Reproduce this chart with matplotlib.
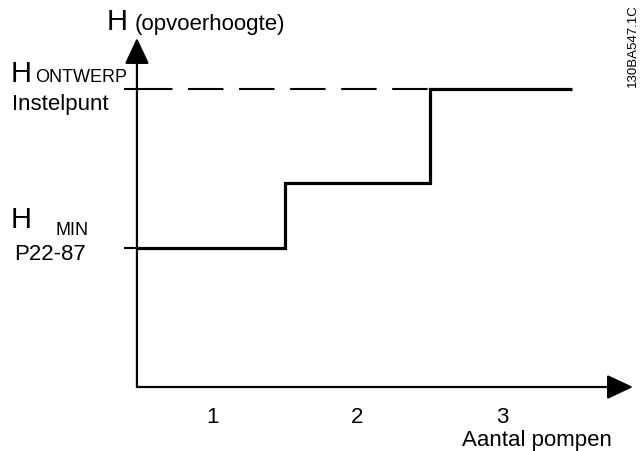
import matplotlib
matplotlib.use("Agg")
import matplotlib.pyplot as plt

plt.rcParams['font.family'] = ['Liberation Sans', 'DejaVu Sans']

# pumps and head levels
pumps = [1, 2, 3]
step_x = [0.479, 1.5, 1.5, 2.5, 2.5, 3.48]
step_h = [1.39, 1.39, 2.04, 2.04, 2.98, 2.98]
h_min = 1.39
h_design = 2.98
x_origin = 0.479
x_end = 3.9
y_end = 3.49

fig = plt.figure(figsize=(6.43, 4.52), dpi=100)
ax = fig.add_axes([0, 0, 1, 1])
ax.set_xlim(-0.4655, 3.969)
ax.set_ylim(-0.64, 3.88)
ax.axis("off")

# axes with arrows
arr = dict(arrowstyle="-|>,head_length=1.6,head_width=0.75", color="black",
           lw=1.6, shrinkA=0, shrinkB=0, mutation_scale=10)
ax.annotate("", xy=(x_end, 0), xytext=(x_origin, 0), arrowprops=arr)
ax.annotate("", xy=(x_origin, y_end), xytext=(x_origin, 0), arrowprops=arr)

# ticks on the H axis
for h in [h_min, h_design]:
    ax.plot([x_origin - 0.09, x_origin], [h, h], color="black", lw=1.5,
            solid_capstyle="butt")

# set point dashed line
ax.plot([x_origin, 2.5], [h_design, h_design], color="black", lw=1.5,
        dashes=(17, 7.5))

# head per number of pumps
ax.plot(step_x, step_h, color="black", lw=2.3, solid_joinstyle="miter",
        solid_capstyle="butt")

# labels
ax.text(0.27, 3.58, "H", fontsize=21, va="baseline")
ax.text(0.466, 3.58, "(opvoerhoogte)", fontsize=16, va="baseline")
ax.text(-0.39, 3.06, "H", fontsize=21, va="baseline")
ax.text(-0.224, 3.06, "ONTWERP", fontsize=13, va="baseline")
ax.text(-0.38, 2.78, "Instelpunt", fontsize=16, va="baseline")
ax.text(-0.39, 1.60, "H", fontsize=21, va="baseline")
ax.text(-0.086, 1.53, "MIN", fontsize=13, va="baseline")
ax.text(-0.37, 1.28, "P22-87", fontsize=16, va="baseline")

for p in pumps:
    ax.text(p, -0.355, str(p), fontsize=16, ha="center", va="baseline")
ax.text(2.72, -0.58, "Aantal pompen", fontsize=16, va="baseline")

ax.text(3.9, 3.84, "130BA547.1C", fontsize=9.5, rotation=90,
        ha="center", va="top")

fig.savefig("out.png", dpi=100)
